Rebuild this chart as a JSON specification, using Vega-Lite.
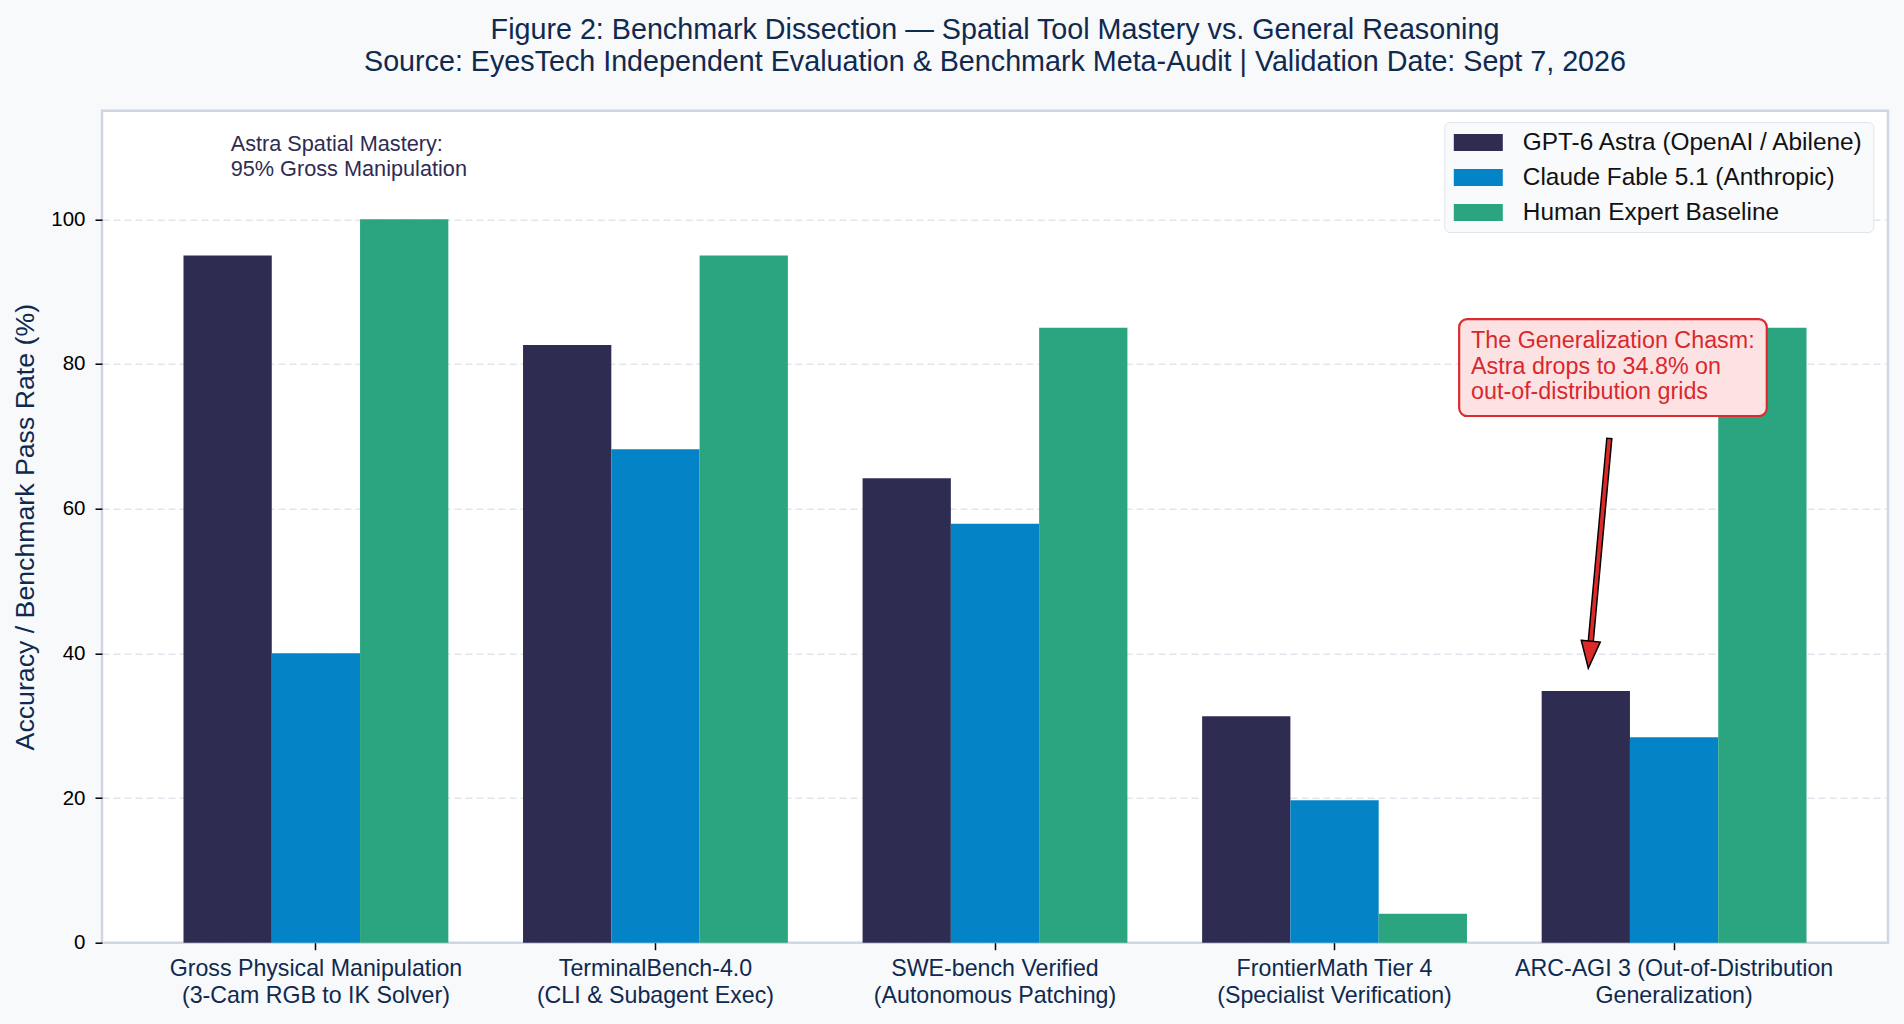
{
  "$schema": "https://vega.github.io/schema/vega-lite/v6.json",
  "width": 1786,
  "height": 832,
  "autosize": "none",
  "padding": {"left": 102, "top": 110.7, "right": 16, "bottom": 81.3},
  "background": "#f7f9fb",
  "config": {
    "font": "Liberation Sans",
    "view": {"fill": "#ffffff", "stroke": "#cdd6e2", "strokeWidth": 2.5},
    "axisY": {
      "titleFontSize": 26.7, "titleFontWeight": "normal", "titleColor": "#10294f", "titlePadding": 11,
      "tickCount": 6, "labelFontSize": 20.5, "labelColor": "#000000", "labelPadding": 10,
      "tickColor": "#000000", "tickSize": 7, "tickWidth": 1.5, "domain": false,
      "grid": true, "gridColor": "#d3dbe5", "gridOpacity": 0.7, "gridDash": [7, 4], "gridWidth": 1.5,
      "zindex": 1
    }
  },
  "title": {
    "text": [
      "Figure 2: Benchmark Dissection — Spatial Tool Mastery vs. General Reasoning",
      "Source: EyesTech Independent Evaluation & Benchmark Meta-Audit | Validation Date: Sept 7, 2026"
    ],
    "fontSize": 28.7,
    "fontWeight": "normal",
    "color": "#10294f",
    "lineHeight": 31.8,
    "anchor": "middle",
    "frame": "group",
    "offset": 34
  },
  "layer": [
    {
      "data": {
        "values": [
          {"benchmark": "Gross Physical Manipulation\n(3-Cam RGB to IK Solver)", "model": "GPT-6 Astra (OpenAI / Abilene)", "score": 95},
          {"benchmark": "Gross Physical Manipulation\n(3-Cam RGB to IK Solver)", "model": "Claude Fable 5.1 (Anthropic)", "score": 40},
          {"benchmark": "Gross Physical Manipulation\n(3-Cam RGB to IK Solver)", "model": "Human Expert Baseline", "score": 100},
          {"benchmark": "TerminalBench-4.0\n(CLI & Subagent Exec)", "model": "GPT-6 Astra (OpenAI / Abilene)", "score": 82.6},
          {"benchmark": "TerminalBench-4.0\n(CLI & Subagent Exec)", "model": "Claude Fable 5.1 (Anthropic)", "score": 68.2},
          {"benchmark": "TerminalBench-4.0\n(CLI & Subagent Exec)", "model": "Human Expert Baseline", "score": 95},
          {"benchmark": "SWE-bench Verified\n(Autonomous Patching)", "model": "GPT-6 Astra (OpenAI / Abilene)", "score": 64.2},
          {"benchmark": "SWE-bench Verified\n(Autonomous Patching)", "model": "Claude Fable 5.1 (Anthropic)", "score": 57.9},
          {"benchmark": "SWE-bench Verified\n(Autonomous Patching)", "model": "Human Expert Baseline", "score": 85},
          {"benchmark": "FrontierMath Tier 4\n(Specialist Verification)", "model": "GPT-6 Astra (OpenAI / Abilene)", "score": 31.3},
          {"benchmark": "FrontierMath Tier 4\n(Specialist Verification)", "model": "Claude Fable 5.1 (Anthropic)", "score": 19.7},
          {"benchmark": "FrontierMath Tier 4\n(Specialist Verification)", "model": "Human Expert Baseline", "score": 4},
          {"benchmark": "ARC-AGI 3 (Out-of-Distribution\nGeneralization)", "model": "GPT-6 Astra (OpenAI / Abilene)", "score": 34.8},
          {"benchmark": "ARC-AGI 3 (Out-of-Distribution\nGeneralization)", "model": "Claude Fable 5.1 (Anthropic)", "score": 28.4},
          {"benchmark": "ARC-AGI 3 (Out-of-Distribution\nGeneralization)", "model": "Human Expert Baseline", "score": 85}
        ]
      },
      "mark": {"type": "bar"},
      "encoding": {
        "x": {
          "field": "benchmark", "type": "nominal", "sort": null,
          "scale": {"paddingInner": 0.22, "paddingOuter": 0.24},
          "axis": {
            "title": null, "labelAngle": 0, "labelFontSize": 23.2, "labelColor": "#10294f",
            "labelLineHeight": 26.7, "labelExpr": "split(datum.label, '\\n')",
            "labelLimit": 0, "labelPadding": 8, "tickColor": "#000000", "tickSize": 7,
            "tickWidth": 1.5, "domain": false, "grid": false
          }
        },
        "xOffset": {
          "field": "model", "type": "nominal",
          "sort": ["GPT-6 Astra (OpenAI / Abilene)", "Claude Fable 5.1 (Anthropic)", "Human Expert Baseline"],
          "scale": {"paddingInner": 0, "paddingOuter": 0}
        },
        "y": {
          "field": "score", "type": "quantitative",
          "title": "Accuracy / Benchmark Pass Rate (%)",
          "scale": {"domain": [0, 115], "nice": false}
        },
        "color": {
          "field": "model", "type": "nominal",
          "scale": {
            "domain": ["GPT-6 Astra (OpenAI / Abilene)", "Claude Fable 5.1 (Anthropic)", "Human Expert Baseline"],
            "range": ["#2f2c52", "#0484c7", "#2ba57f"]
          },
          "legend": {
            "title": null, "orient": "none", "legendX": 1342.3, "legendY": 11.3,
            "fillColor": "#f8fafc", "strokeColor": "#e0e5ec", "cornerRadius": 5, "padding": 8,
            "symbolType": "M-2,-0.7H2V0.7H-2Z", "symbolSize": 600, "symbolStrokeWidth": 0,
            "symbolOffset": 13.5, "symbolOpacity": 1, "labelOffset": 32, "labelFontSize": 24.4,
            "labelColor": "#111111", "rowPadding": 10, "labelLimit": 0
          }
        }
      }
    },
    {
      "layer": [
        {
          "data": {"values": [{"x1": 3.367, "x2": 4.273, "y1": 86.2, "y2": 72.8}]},
          "mark": {"type": "rect", "fill": "#fde2e3", "stroke": "#dc2b2f", "strokeWidth": 2.2, "cornerRadius": 8},
          "encoding": {
            "x": {"field": "x1", "type": "quantitative", "scale": {"domain": [-0.63, 4.63], "nice": false, "zero": false}, "axis": null},
            "x2": {"field": "x2"},
            "y": {"field": "y1", "type": "quantitative", "title": "Accuracy / Benchmark Pass Rate (%)", "scale": {"domain": [0, 115], "nice": false}},
            "y2": {"field": "y2"}
          }
        },
        {
          "data": {
            "values": [
              {"x": 3.402, "y": 82.16, "label": "The Generalization Chasm:\nAstra drops to 34.8% on\nout-of-distribution grids"}
            ]
          },
          "mark": {"type": "text", "align": "left", "baseline": "alphabetic", "fontSize": 23.3, "color": "#d9282d", "lineBreak": "\n", "lineHeight": 25.4},
          "encoding": {
            "x": {"field": "x", "type": "quantitative", "scale": {"domain": [-0.63, 4.63], "nice": false, "zero": false}, "axis": null},
            "y": {"field": "y", "type": "quantitative", "title": "Accuracy / Benchmark Pass Rate (%)", "scale": {"domain": [0, 115], "nice": false}},
            "text": {"field": "label"}
          }
        },
        {
          "data": {
            "values": [
              {"x": -0.251, "y": 109.47, "label": "Astra Spatial Mastery:\n95% Gross Manipulation"}
            ]
          },
          "mark": {"type": "text", "align": "left", "baseline": "alphabetic", "fontSize": 21.7, "color": "#2f2c52", "lineBreak": "\n", "lineHeight": 25.3},
          "encoding": {
            "x": {"field": "x", "type": "quantitative", "scale": {"domain": [-0.63, 4.63], "nice": false, "zero": false}, "axis": null},
            "y": {"field": "y", "type": "quantitative", "title": "Accuracy / Benchmark Pass Rate (%)", "scale": {"domain": [0, 115], "nice": false}},
            "text": {"field": "label"}
          }
        },
        {
          "data": {"values": [{"x1": 3.8095, "y1": 69.8, "x2": 3.754, "y2": 41.3}]},
          "mark": {"type": "rule", "color": "#000000", "strokeWidth": 6.5, "strokeCap": "butt"},
          "encoding": {
            "x": {"field": "x1", "type": "quantitative", "scale": {"domain": [-0.63, 4.63], "nice": false, "zero": false}, "axis": null},
            "x2": {"field": "x2"},
            "y": {"field": "y1", "type": "quantitative", "title": "Accuracy / Benchmark Pass Rate (%)", "scale": {"domain": [0, 115], "nice": false}},
            "y2": {"field": "y2"}
          }
        },
        {
          "data": {"values": [{"x1": 3.809, "y1": 69.6, "x2": 3.754, "y2": 41.3}]},
          "mark": {"type": "rule", "color": "#dc2a2a", "strokeWidth": 3.6, "strokeCap": "butt"},
          "encoding": {
            "x": {"field": "x1", "type": "quantitative", "scale": {"domain": [-0.63, 4.63], "nice": false, "zero": false}, "axis": null},
            "x2": {"field": "x2"},
            "y": {"field": "y1", "type": "quantitative", "title": "Accuracy / Benchmark Pass Rate (%)", "scale": {"domain": [0, 115], "nice": false}},
            "y2": {"field": "y2"}
          }
        },
        {
          "data": {"values": [{"x": 3.751, "y": 39.8}]},
          "mark": {"type": "point", "shape": "M-0.7,-1L0.7,-1L0,1Z", "size": 740, "angle": 5.2, "filled": true, "fill": "#dc2a2a", "stroke": "#000000", "strokeWidth": 1.5, "opacity": 1},
          "encoding": {
            "x": {"field": "x", "type": "quantitative", "scale": {"domain": [-0.63, 4.63], "nice": false, "zero": false}, "axis": null},
            "y": {"field": "y", "type": "quantitative", "title": "Accuracy / Benchmark Pass Rate (%)", "scale": {"domain": [0, 115], "nice": false}}
          }
        }
      ]
    }
  ],
  "resolve": {"scale": {"x": "independent"}}
}
